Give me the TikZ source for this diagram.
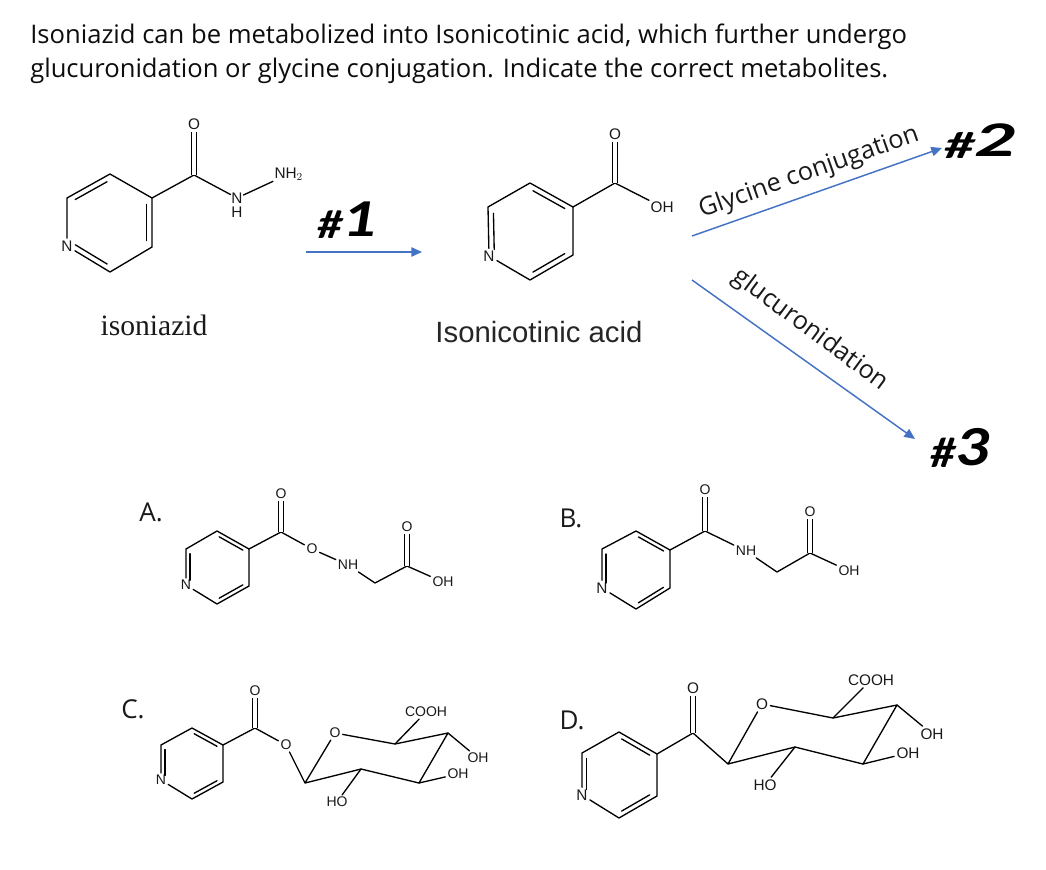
\documentclass[tikz,border=0pt]{standalone}
\usepackage{fontspec}
\setmainfont{Liberation Sans}
\newfontfamily\titlefont{Open Sans}
\newfontfamily\capfont{Liberation Serif}
\newfontfamily\handfont{Carlito}
\usetikzlibrary{calc,arrows.meta}
\definecolor{arrowblue}{HTML}{4472C4}
\tikzset{
  bond/.style={line width=1pt,black,line cap=round,line join=round},
  dbl/.style={bond,double,double distance=2.8pt,line width=0.8pt,line cap=butt},
  atomL/.style={inner sep=1.6pt,font=\fontsize{11.5}{12}\selectfont,text=black!90},
  atomM/.style={inner sep=1.4pt,font=\fontsize{10.5}{11}\selectfont,text=black!90},
  flow/.style={arrowblue,line width=1.1pt,-{Triangle[length=8pt,width=7pt]}},
  title/.style={anchor=west,inner sep=0pt,font=\titlefont\fontsize{19.2}{23}\selectfont,text=black!95},
  optlabel/.style={font=\titlefont\fontsize{19.5}{22}\selectfont,text=black!90},
  rotlabel/.style={font=\titlefont\fontsize{19}{22}\selectfont,text=black!90},
  hand/.style={font=\handfont\bfseries\itshape\fontsize{38}{38}\selectfont,text=black}
}
\newcommand{\inbond}[3][4pt]{\draw[bond] ($(#2)!0.13!(#3)!#1!-90:(#3)$) -- ($(#3)!0.13!(#2)!#1!90:(#2)$);}
\newcommand{\hdigit}[1]{\raisebox{2pt}{\fontsize{50}{50}\selectfont #1}}
\begin{document}
\begin{tikzpicture}[x=0.75pt,y=-0.75pt]
\useasboundingbox (0,0) rectangle (1046,870);
% title
\node[title] (t1) at (30,37) {Isoniazid can be metabolized into Isonicotinic acid, which further undergo};
\node[title] (t2) at (30,71) {glucuronidation or glycine conjugation.  Indicate the correct metabolites.};

% isoniazid
\node[atomL] (iN) at (67,246) {N};
\coordinate (i1) at (67,198);
\coordinate (i2) at (110,174);
\coordinate (i3) at (152,198);
\coordinate (i4) at (152,247);
\coordinate (i5) at (110,272);
\coordinate (iC) at (194,175);
\node[atomL] (iO) at (194,124) {O};
\node[atomL,inner sep=0.5pt] (iNa) at (237,198) {N};
\node[atomL,inner sep=0.5pt] (iHa) at (237,212) {H};
\node[atomL,anchor=west,inner sep=1pt] (iNH2) at (273,174) {NH$_2$};
\draw[bond] (iN) -- (i1) -- (i2) -- (i3) -- (i4) -- (i5) -- (iN);
\inbond{i1}{i2}
\inbond{i3}{i4}
\inbond{i5}{iN}
\draw[bond] (i3) -- (iC) -- (iNa);
\draw[dbl] (iC) -- (iO);
\draw[bond] (iNa) -- (iNH2);
\node[font=\capfont\fontsize{22.2}{26}\selectfont,text=black!90] (iname) at (154,325) {isoniazid};

% isonicotinic acid
\node[atomL] (nN) at (489,256) {N};
\coordinate (n1) at (488,207);
\coordinate (n2) at (530,183);
\coordinate (n3) at (573,207);
\coordinate (n4) at (573,255);
\coordinate (n5) at (530,280);
\coordinate (nC) at (615,183);
\node[atomL] (nO) at (615,134) {O};
\node[atomL,anchor=west,inner sep=1pt] (nOH) at (649,207) {OH};
\draw[bond] (nN) -- (n1) -- (n2) -- (n3) -- (n4) -- (n5) -- (nN);
\inbond{nN}{n1}
\inbond{n2}{n3}
\inbond{n4}{n5}
\draw[bond] (n3) -- (nC) -- (nOH);
\draw[dbl] (nC) -- (nO);
\node[font=\fontsize{22}{26}\selectfont,text=black!85] (nname) at (539,332) {Isonicotinic acid};

% arrows
\coordinate (a1s) at (306,252);
\coordinate (a1e) at (422,252);
\coordinate (a2s) at (692,236);
\coordinate (a2e) at (942,148);
\coordinate (a3s) at (692,280);
\coordinate (a3e) at (915,439);
\draw[flow] (a1s) -- (a1e);
\draw[flow] (a2s) -- (a2e);
\draw[flow] (a3s) -- (a3e);
\node[rotlabel,rotate=19.5] (lgly) at (809,173) {Glycine conjugation};
\node[rotlabel,rotate=-36.5] (lglu) at (810,330) {glucuronidation};
\node[hand] (h1) at (347,220) {\scalebox{1}[0.8]{\#\hdigit{1}}};
\node[hand] (h2) at (980,141) {\scalebox{1.2}[0.75]{\#\hdigit{2}}};
\node[hand] (h3) at (960,448) {\scalebox{1}[0.85]{\#\hdigit{3}}};

% A
\node[optlabel] (la) at (151,512) {A.};
\node[atomM] (aN) at (186,585) {N};
\coordinate (a1) at (186,549);
\coordinate (a2) at (217,531);
\coordinate (a3) at (249,549);
\coordinate (a4) at (249,586);
\coordinate (a5) at (217,604);
\coordinate (aC) at (281,532);
\node[atomM] (aO) at (281,494) {O};
\node[atomM] (aE) at (312,549) {O};
\node[atomM] (aNH) at (348,565) {NH};
\coordinate (aM) at (375,583);
\coordinate (aK) at (407,566);
\node[atomM] (aK1) at (407,527) {O};
\node[atomM] (aOH) at (443,582) {OH};
\draw[bond] (aN) -- (a1) -- (a2) -- (a3) -- (a4) -- (a5) -- (aN);
\inbond[3pt]{aN}{a1}
\inbond[3pt]{a2}{a3}
\inbond[3pt]{a4}{a5}
\draw[bond] (a3) -- (aC) -- (aE) -- (aNH) -- (aM) -- (aK) -- (aOH);
\draw[dbl] (aC) -- (aO);
\draw[dbl] (aK) -- (aK1);

% B
\node[optlabel] (lb) at (571,518) {B.};
\node[atomL] (bN) at (602,588) {N};
\coordinate (b1) at (602,549);
\coordinate (b2) at (636,531);
\coordinate (b3) at (670,550);
\coordinate (b4) at (670,588);
\coordinate (b5) at (636,609);
\coordinate (bC) at (705,531);
\node[atomM] (bO) at (705,490) {O};
\node[atomM] (bNH) at (746,551) {NH};
\coordinate (bM) at (777,572);
\coordinate (bK) at (810,553);
\node[atomM] (bK1) at (810,512) {O};
\node[atomM] (bOH) at (849,571) {OH};
\draw[bond] (bN) -- (b1) -- (b2) -- (b3) -- (b4) -- (b5) -- (bN);
\inbond[3pt]{bN}{b1}
\inbond[3pt]{b2}{b3}
\inbond[3pt]{b4}{b5}
\draw[bond] (b3) -- (bC) -- (bNH) -- (bM) -- (bK) -- (bOH);
\draw[dbl] (bC) -- (bO);
\draw[dbl] (bK) -- (bK1);

% C
\node[optlabel] (lc) at (133,709) {C.};
\node[atomM] (cN) at (161,780) {N};
\coordinate (c1) at (161,745);
\coordinate (c2) at (192,728);
\coordinate (c3) at (223,745);
\coordinate (c4) at (223,782);
\coordinate (c5) at (192,799);
\coordinate (cC) at (255,728);
\node[atomM] (cO) at (255,691) {O};
\node[atomM] (cE) at (286,745) {O};
\coordinate (cS1) at (305,783);
\node[atomM] (cR) at (335,733) {O};
\coordinate (cS5) at (395,744);
\node[atomM] (cCOOH) at (426,712) {COOH};
\coordinate (cS4) at (448,733);
\node[atomM] (cOH4) at (478,758) {OH};
\coordinate (cS3) at (419,783);
\node[atomM] (cOH3) at (458,774) {OH};
\coordinate (cS2) at (361,769);
\node[atomM] (cOH2) at (337,802) {HO};
\draw[bond] (cN) -- (c1) -- (c2) -- (c3) -- (c4) -- (c5) -- (cN);
\inbond[3pt]{cN}{c1}
\inbond[3pt]{c2}{c3}
\inbond[3pt]{c4}{c5}
\draw[bond] (c3) -- (cC) -- (cE) -- (cS1) -- (cR) -- (cS5) -- (cS4) -- (cS3) -- (cS2) -- (cS1);
\draw[dbl] (cC) -- (cO);
\draw[bond] (cS5) -- (cCOOH);
\draw[bond] (cS4) -- (cOH4);
\draw[bond] (cS3) -- (cOH3);
\draw[bond] (cS2) -- (cOH2);

% D
\node[optlabel] (ld) at (572,720) {D.};
\node[atomL] (dN) at (582,795) {N};
\coordinate (d1) at (582,753);
\coordinate (d2) at (619,732);
\coordinate (d3) at (657,754);
\coordinate (d4) at (657,796);
\coordinate (d5) at (619,818);
\coordinate (dC) at (693,733);
\node[atomL] (dO) at (693,688) {O};
\coordinate (dS1) at (728,764);
\node[atomL] (dR) at (762,704) {O};
\coordinate (dS5) at (833,718);
\node[atomL] (dCOOH) at (871,680) {COOH};
\coordinate (dS4) at (897,705);
\node[atomL] (dOH4) at (932,734) {OH};
\coordinate (dS3) at (863,764);
\node[atomL] (dOH3) at (908,753) {OH};
\coordinate (dS2) at (795,747);
\node[atomL] (dOH2) at (765,785) {HO};
\draw[bond] (dN) -- (d1) -- (d2) -- (d3) -- (d4) -- (d5) -- (dN);
\inbond[3.5pt]{dN}{d1}
\inbond[3.5pt]{d2}{d3}
\inbond[3.5pt]{d4}{d5}
\draw[bond] (d3) -- (dC) -- (dS1) -- (dR) -- (dS5) -- (dS4) -- (dS3) -- (dS2) -- (dS1);
\draw[dbl] (dC) -- (dO);
\draw[bond] (dS5) -- (dCOOH);
\draw[bond] (dS4) -- (dOH4);
\draw[bond] (dS3) -- (dOH3);
\draw[bond] (dS2) -- (dOH2);
\end{tikzpicture}
\end{document}
